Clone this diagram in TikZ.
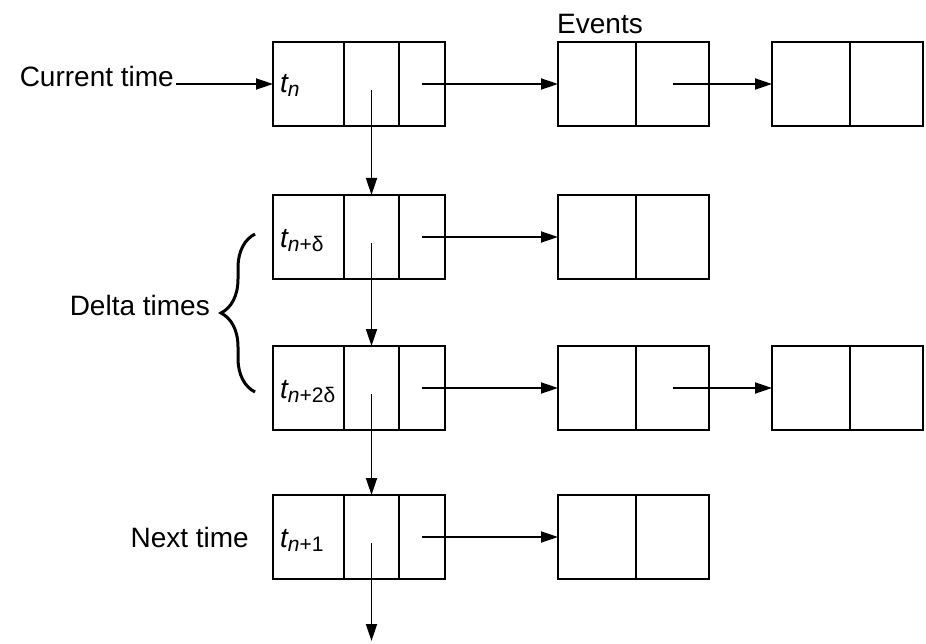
\documentclass[tikz,border=0pt]{standalone}
\usepackage{fontspec}
\setmainfont{Liberation Sans}
\usetikzlibrary{arrows.meta,decorations.pathreplacing}
\newcommand{\tlab}[1]{{\fontsize{28}{30}\selectfont\itshape t}\raisebox{-4pt}{\fontsize{21}{22}\selectfont #1}}
\begin{document}
\begin{tikzpicture}[x=1pt,y=-1pt,
  cell/.style={draw, line width=1.8pt, inner sep=0pt, outer sep=0pt, minimum height=84pt, anchor=west},
  ca/.style={cell, minimum width=71pt},
  cb/.style={cell, minimum width=55pt},
  cc/.style={cell, minimum width=46pt},
  ea/.style={cell, minimum width=78pt},
  eb/.style={cell, minimum width=73pt},
  arr/.style={line width=1.8pt, -{Triangle[length=17pt,width=11pt]}},
  lbl/.style={font=\fontsize{28}{32}\selectfont, inner sep=2pt},
  tl/.style={anchor=base west, inner sep=0pt}]
\useasboundingbox (0,0) rectangle (926,644);

% time rows
\foreach \r/\y in {1/84, 2/237, 3/388, 4/537}{
  \node[ca] (T\r a) at (273,\y) {};
  \node[cb] (T\r b) at (T\r a.east) {};
  \node[cc] (T\r c) at (T\r b.east) {};
}
% event boxes
\node[ea] (E1a) at (558,84) {};  \node[eb] (E1b) at (E1a.east) {};
\node[ea] (F1a) at (772,84) {};  \node[eb] (F1b) at (F1a.east) {};
\node[ea] (E2a) at (558,237) {}; \node[eb] (E2b) at (E2a.east) {};
\node[ea] (E3a) at (558,388) {}; \node[eb] (E3b) at (E3a.east) {};
\node[ea] (F3a) at (772,388) {}; \node[eb] (F3b) at (F3a.east) {};
\node[ea] (E4a) at (558,537) {}; \node[eb] (E4b) at (E4a.east) {};

% time labels
\node[tl] (L1) at (280,93) {\tlab{\itshape n}};
\node[tl] (L2) at (280,248) {\tlab{{\itshape n}+δ}};
\node[tl] (L3) at (280,398) {\tlab{{\itshape n}+2δ}};
\node[tl] (L4) at (280,547) {\tlab{{\itshape n}+1}};

% text labels
\node[lbl, anchor=mid east] (cur) at (176,84) {Current time};
\node[lbl, anchor=base west, inner sep=0pt] (ev) at (557,34) {Events};
\node[lbl, anchor=mid east] (delta) at (212,313) {Delta times};
\node[lbl, anchor=base east] (next) at (251,547) {Next time};

% brace
\coordinate (bb) at (255,392);
\coordinate (bt) at (255,234);
\draw[line width=3pt, decorate, decoration={brace, amplitude=34pt}] (bb) -- (bt);

% arrows
\draw[arr] (cur.mid east) -- (T1a.west);
\foreach \r in {1,2,3,4}{
  \draw[arr] (T\r c.center) -- (E\r a.west);
}
\draw[arr] (E1b.center) -- (F1a.west);
\draw[arr] (E3b.center) -- (F3a.west);
\draw[arr] ([yshift=-6pt]T1b.center) -- (T2b.north);
\draw[arr] ([yshift=-6pt]T2b.center) -- (T3b.north);
\draw[arr] ([yshift=-6pt]T3b.center) -- (T4b.north);
\path (T4b.center) ++(0,104) coordinate (end);
\draw[arr] ([yshift=-6pt]T4b.center) -- (end);
\end{tikzpicture}
\end{document}
